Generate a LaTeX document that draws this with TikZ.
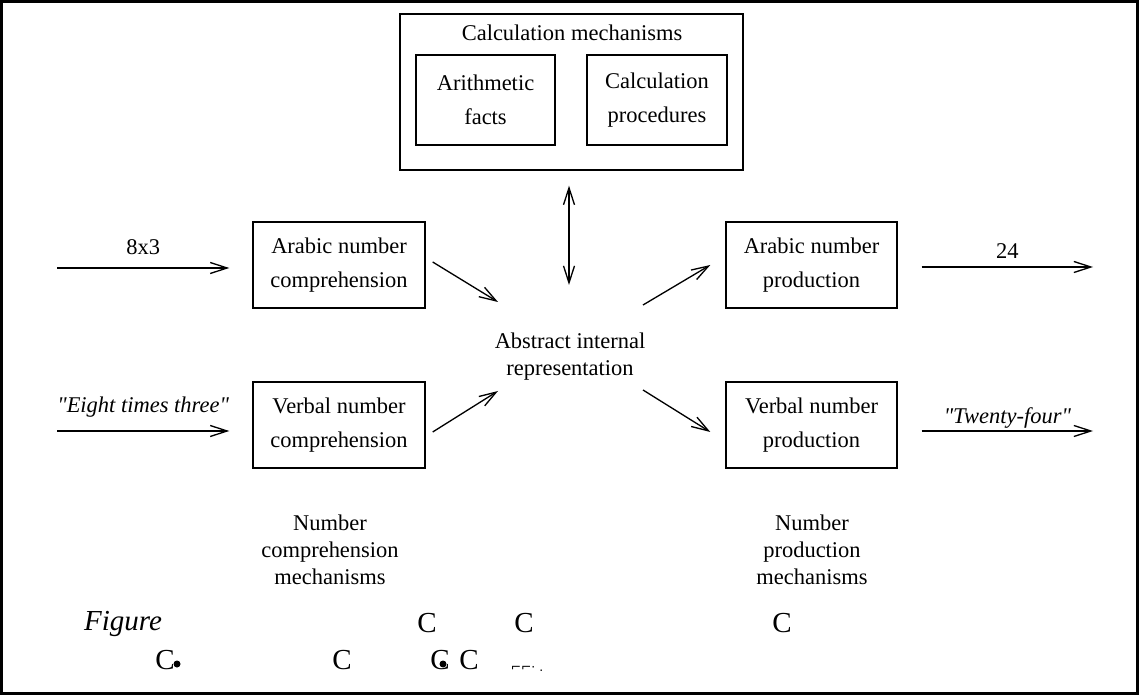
\documentclass[tikz,border=0pt]{standalone}
\usepackage{fontspec}
\setmainfont{Liberation Serif}
\newfontfamily\symfont{DejaVu Sans}
\usetikzlibrary{arrows.meta,positioning}

\begin{document}
\begin{tikzpicture}[x=0.02cm,y=-0.02cm,>={Straight Barb[length=3.4mm,width=2.2mm]}]
\tikzstyle{box}=[draw,line width=0.8pt,inner sep=0pt,align=center,font=\fontsize{12.8}{19.5}\selectfont]
\tikzstyle{lbl}=[align=center,font=\fontsize{12.8}{15.3}\selectfont]
\tikzstyle{fig}=[inner sep=0pt,font=\fontsize{16.5}{16.5}\selectfont]
\tikzstyle{arr}=[->,line width=0.75pt]
\useasboundingbox (0,0) rectangle (1139,695);
\draw[line width=1.7pt] (1.5,1.5) rectangle (1137.5,693.5);
% calculation part
\node[box,minimum width=6.86cm,minimum height=3.12cm] (calc) at (571.5,92) {};
\node[lbl] (calctitle) at (572,33) {Calculation mechanisms};
\node[box,minimum width=2.78cm,minimum height=1.8cm] (facts) at (485.5,100) {Arithmetic\\facts};
\node[box,minimum width=2.8cm,minimum height=1.8cm] (procs) at (657,100) {Calculation\\procedures};
% comprehension and production boxes
\node[box,minimum width=3.44cm,minimum height=1.72cm] (ac) at (339,265) {Arabic number\\comprehension};
\node[box,minimum width=3.44cm,minimum height=1.72cm] (vc) at (339,425) {Verbal number\\comprehension};
\node[box,minimum width=3.42cm,minimum height=1.72cm] (ap) at (811.5,265) {Arabic number\\production};
\node[box,minimum width=3.42cm,minimum height=1.72cm] (vp) at (811.5,425) {Verbal number\\production};
\node[lbl] (abs) at (570,357) {Abstract internal\\representation};
\node[lbl] (ncm) at (330,550) {Number\\comprehension\\mechanisms};
\node[lbl] (npm) at (812,550) {Number\\production\\mechanisms};
% inputs and outputs
\coordinate (in1) at (57,268);
\coordinate (in2) at (57,431);
\coordinate (out1) at (1093,267);
\coordinate (out2) at (1093,431);
\draw[arr] (in1) -- node[lbl,above=0.14cm] {8x3} ([shift={(-23,0)}]in1 -| ac.west);
\draw[arr] (in2) -- node[lbl,above=0.14cm] {\itshape\textquotedbl Eight times three\textquotedbl} ([shift={(-23,0)}]in2 -| vc.west);
\draw[arr] ([shift={(24,0)}]ap.east |- out1) -- node[lbl,above=0.03cm] {24} (out1);
\draw[arr] ([shift={(24,0)}]vp.east |- out2) -- node[lbl,above=-0.08cm] {\itshape\textquotedbl Twenty-four\textquotedbl} (out2);
% links to the internal representation
\draw[arr] ([shift={(7,-3)}]ac.east) -- ([shift={(-72,-55)}]abs.center);
\draw[arr] ([shift={(7,7)}]vc.east) -- ([shift={(-72,34)}]abs.center);
\draw[arr] ([shift={(73,-52)}]abs.center) -- ([shift={(-15,0)}]ap.west);
\draw[arr] ([shift={(73,33)}]abs.center) -- ([shift={(-15,7)}]vp.west);
\draw[arr,<->] ([shift={(-2.5,15)}]calc.south) -- ([shift={(-1,-72)}]abs.center);
% figure caption remains
\node[fig] (figword) at (123,624) {\itshape Figure};
\node[fig] (c1) at (427,623) {C};
\node[fig] (c2) at (524,623) {C};
\node[fig] (c3) at (782,623) {C};
\node[fig] (c4) at (165,660) {C};
\node[fig] (c5) at (342,660) {C};
\node[fig] (c6) at (440,660) {C};
\node[fig] (c7) at (469,660) {C};
\fill (177,664) circle (3.5);
\fill (443,664) circle (3.5);
\node[inner sep=0pt,font=\symfont\fontsize{7}{7}\selectfont] (marks) at (527,669) {⌐⌐· .};
\end{tikzpicture}
\end{document}
